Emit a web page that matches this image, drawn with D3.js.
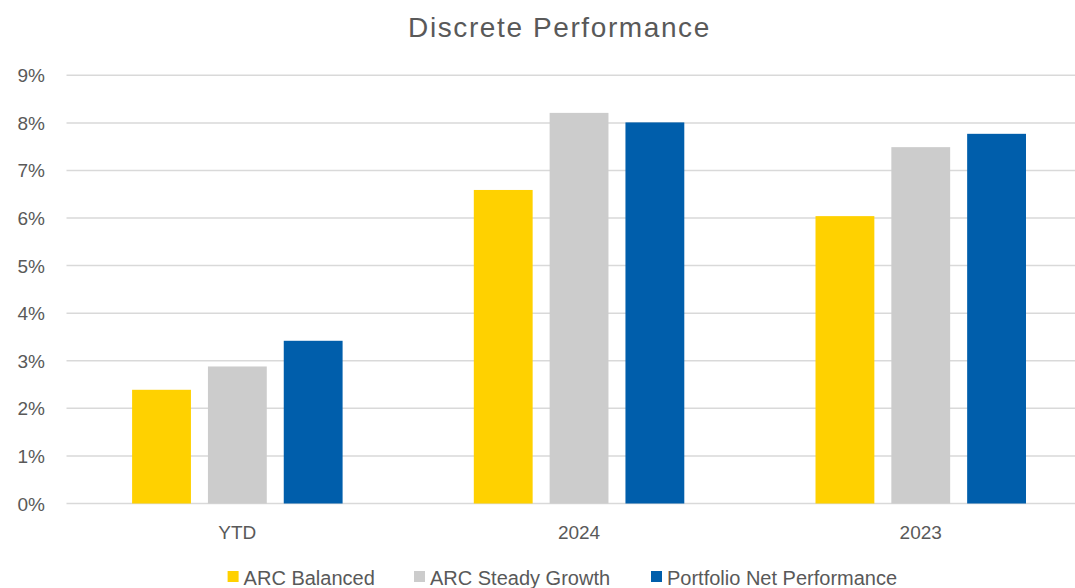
<!DOCTYPE html>
<html>
<head>
<meta charset="utf-8">
<script src="https://cdn.jsdelivr.net/npm/d3@7"></script>
<style>
  body { margin: 0; background: #fff; }
  svg text { font-family: "Liberation Sans", Arial, sans-serif; fill: #595959; }
</style>
</head>
<body>
<svg width="1075" height="588"></svg>
<script>
var categories = ["YTD", "2024", "2023"];
var series = ["ARC Balanced", "ARC Steady Growth", "Portfolio Net Performance"];
var colors = ["#FFD100", "#CCCCCC", "#005EAB"];
var arcBalanced = [2.39, 6.59, 6.04];
var arcSteadyGrowth = [2.88, 8.21, 7.49];
var portfolioNet = [3.42, 8.01, 7.77];
var yTicks = [0, 1, 2, 3, 4, 5, 6, 7, 8, 9];

var values = [arcBalanced, arcSteadyGrowth, portfolioNet];

var svg = d3.select("svg");

var x0 = d3.scaleBand()
  .domain(categories)
  .range([66.5, 66.5 + 3 * 341.7])
  .paddingInner(0.384)
  .paddingOuter(0.192);

var x1 = d3.scaleBand()
  .domain(series)
  .range([0, x0.bandwidth()])
  .paddingInner(0.224);

var y = d3.scaleLinear()
  .domain([0, 9])
  .range([503.5, 75.3]);

var color = d3.scaleOrdinal().domain(series).range(colors);

// gridlines
svg.append("g")
  .selectAll("line")
  .data(yTicks)
  .enter()
  .append("line")
    .attr("x1", 66.5)
    .attr("x2", 1075)
    .attr("y1", d => y(d))
    .attr("y2", d => y(d))
    .style("stroke", "#D9D9D9")
    .style("stroke-width", 1.5);

// y labels
svg.append("g")
  .selectAll("text")
  .data(yTicks)
  .enter()
  .append("text")
    .attr("x", 45)
    .attr("y", d => y(d) + 7)
    .style("text-anchor", "end")
    .style("font-size", "19px")
    .text(d => d + "%");

// bars
var groups = svg.append("g")
  .selectAll("g")
  .data(categories)
  .enter()
  .append("g")
    .attr("transform", d => `translate(${x0(d)},0)`);

groups.selectAll("rect")
  .data((d, i) => series.map((s, j) => ({ series: s, value: values[j][i] })))
  .enter()
  .append("rect")
    .attr("x", d => x1(d.series))
    .attr("width", x1.bandwidth())
    .attr("y", d => y(d.value))
    .attr("height", d => y(0) - y(d.value))
    .style("fill", d => color(d.series));

// category labels
svg.append("g")
  .selectAll("text")
  .data(categories)
  .enter()
  .append("text")
    .attr("x", d => x0(d) + x0.bandwidth() / 2)
    .attr("y", 539)
    .style("text-anchor", "middle")
    .style("font-size", "19px")
    .text(d => d);

// title
svg.append("text")
  .attr("x", 559.5)
  .attr("y", 37)
  .style("text-anchor", "middle")
  .style("font-size", "28px")
  .style("letter-spacing", "1.6px")
  .text("Discrete Performance");

// legend
var legendX = [227.6, 414, 651];
var legend = svg.append("g")
  .selectAll("g")
  .data(series)
  .enter()
  .append("g")
    .attr("transform", (d, i) => `translate(${legendX[i]},0)`);

legend.append("rect")
  .attr("y", 571)
  .attr("width", 11)
  .attr("height", 11)
  .style("fill", d => color(d));

legend.append("text")
  .attr("x", 16)
  .attr("y", 585)
  .style("font-size", "20px")
  .text(d => d);
</script>
</body>
</html>
